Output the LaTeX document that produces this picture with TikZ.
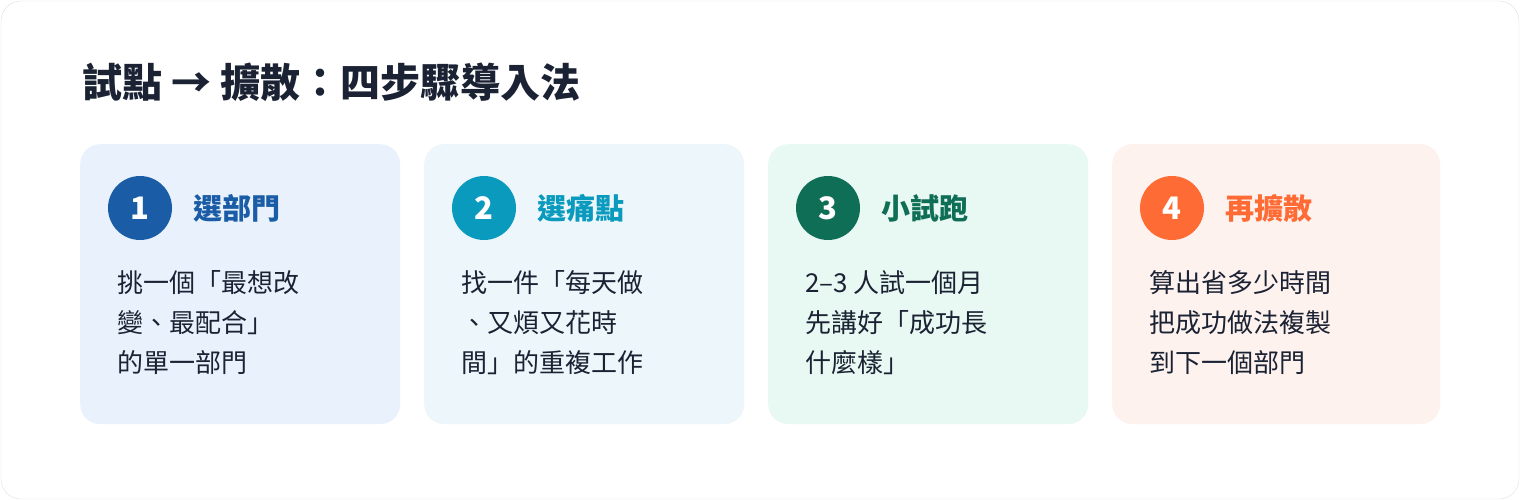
\documentclass[tikz,border=0pt]{standalone}
\usepackage{fontspec}
\setmainfont{Noto Sans CJK TC}
\usetikzlibrary{positioning}
\definecolor{ink}{HTML}{1A2233}
\definecolor{frame}{HTML}{DCE1E8}
\definecolor{blueA}{HTML}{1A5DA6}
\definecolor{blueB}{HTML}{E9F2FC}
\definecolor{tealA}{HTML}{0A9ABD}
\definecolor{tealB}{HTML}{EDF6FA}
\definecolor{greenA}{HTML}{0F6E56}
\definecolor{greenB}{HTML}{E8F8F2}
\definecolor{orangeA}{HTML}{FF6B35}
\definecolor{orangeB}{HTML}{FEF2EE}

\begin{document}
\begin{tikzpicture}[line cap=round,line join=round,x=1pt,y=-1pt,
  card/.style={rounded corners=20pt,minimum width=320pt,minimum height=280pt,inner sep=0pt,anchor=north west},
  num/.style={circle,minimum size=64pt,inner sep=0pt,text=white,font=\fontsize{31}{34}\selectfont\bfseries},
  head/.style={anchor=west,inner sep=0pt,font=\fontsize{29}{32}\selectfont\bfseries},
  body/.style={anchor=west,inner sep=0pt,align=left,text=ink,font=\fontsize{26}{40}\selectfont}]
\useasboundingbox (0,0) rectangle (1520,500);
\draw [frame,fill=white,rounded corners=20pt] (1,1) rectangle (1519,499);
\node [anchor=west,inner sep=0pt,text=ink,font=\fontsize{40}{44}\selectfont\bfseries] (title) at (82,82) {試點 → 擴散：四步驟導入法};
% step 1
\node [card,fill=blueB] (card1) at (80,144) {};
\node [num,fill=blueA] (n1) at (140,208) {1};
\node [head,text=blueA,right=21pt of n1] (h1) {選部門};
\node [body] (b1) at (117,323) {挑一個「最想改\\變、最配合」\\的單一部門};
% step 2
\node [card,fill=tealB] (card2) at (424,144) {};
\node [num,fill=tealA] (n2) at (484,208) {2};
\node [head,text=tealA,right=21pt of n2] (h2) {選痛點};
\node [body] (b2) at (461,323) {找一件「每天做\\、又煩又花時\\間」的重複工作};
% step 3
\node [card,fill=greenB] (card3) at (768,144) {};
\node [num,fill=greenA] (n3) at (828,208) {3};
\node [head,text=greenA,right=21pt of n3] (h3) {小試跑};
\node [body] (b3) at (805,323) {2–3 人試一個月\\先講好「成功長\\什麼樣」};
% step 4
\node [card,fill=orangeB,minimum width=328pt] (card4) at (1112,144) {};
\node [num,fill=orangeA] (n4) at (1172,208) {4};
\node [head,text=orangeA,right=21pt of n4] (h4) {再擴散};
\node [body] (b4) at (1149,323) {算出省多少時間\\把成功做法複製\\到下一個部門};
\end{tikzpicture}
\end{document}
